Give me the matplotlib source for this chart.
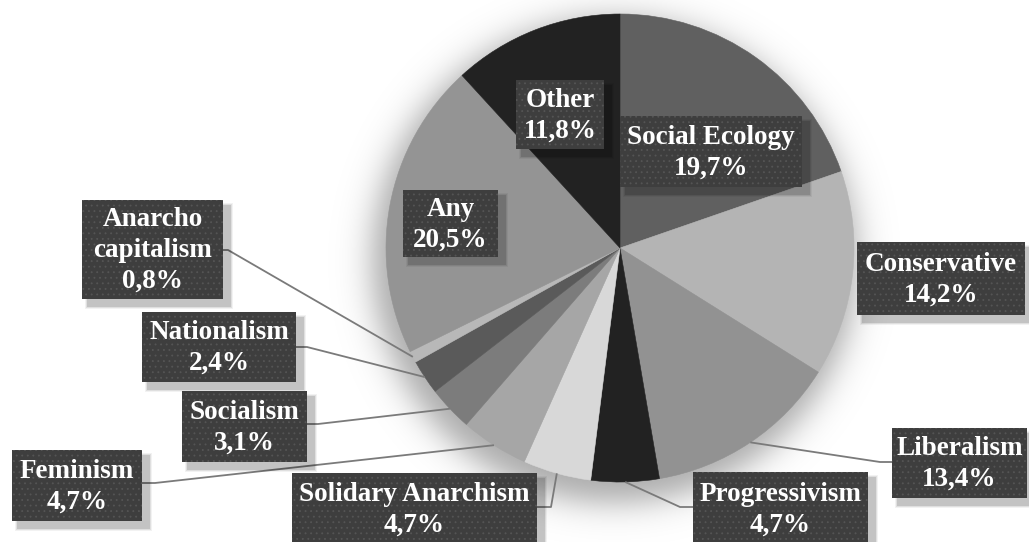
import numpy as np
import matplotlib.pyplot as plt
from matplotlib.patches import Rectangle

W, H = 1029, 542

# share of each group, in percent (clockwise from 12 o'clock)
labels = ["Social Ecology", "Conservative", "Liberalism", "Progressivism",
          "Solidary Anarchism", "Feminism", "Socialism", "Nationalism",
          "Anarcho\ncapitalism", "Any", "Other"]
shares = [19.7, 14.2, 13.4, 4.7, 4.7, 4.7, 3.1, 2.4, 0.8, 20.5, 11.8]
colors = ["#606060", "#b4b4b4", "#929292", "#222222", "#d8d8d8", "#a6a6a6",
          "#7c7c7c", "#5a5a5a", "#b8b8b8", "#949494", "#222222"]

# label boxes in pixels (x0, y0, x1, y1), y measured from the top
boxes = [(620, 116, 802, 187), (857, 242, 1025, 315), (892, 428, 1027, 498),
         (693, 472, 868, 545), (292, 473, 537, 545), (12, 450, 142, 521),
         (182, 391, 307, 462), (142, 312, 296, 382), (82, 200, 223, 299),
         (403, 190, 498, 257), (516, 80, 604, 149)]
# elbow of the leader line (None = label sits on the slice)
elbows = [None, None, (880, 462), (680, 507), (551, 507), (155, 483),
          (318, 424), (307, 347), (228, 250), None, None]

CX, CY, R = 620, 248, 234


def fy(y):
    return H - y


fig = plt.figure(figsize=(W / 100, H / 100), dpi=100)
ax = fig.add_axes([0, 0, 1, 1])

# soft shadow under the pie, pushed a little down-left
yy, xx = np.mgrid[0:H, 0:W]
d = np.hypot(xx - (CX - 6), yy - (CY + 12))
glow = 0.34 / (1 + np.exp((d - (R + 8)) / 10.0))
shade = np.zeros((H, W, 4))
shade[..., 3] = glow
ax.imshow(shade, extent=(0, W, 0, H), origin="upper", zorder=0)

wedges, _ = ax.pie(shares, colors=colors, startangle=90, counterclock=False,
                   center=(CX, fy(CY)), radius=R, frame=True,
                   wedgeprops=dict(linewidth=0.4))
for w, c in zip(wedges, colors):
    w.set_edgecolor(c)
    w.set_zorder(1)
ax.set_xlim(0, W)
ax.set_ylim(0, H)
ax.set_aspect("equal")
ax.axis("off")

# leader lines from slice edge to label
cum = np.cumsum([0] + shares[:-1])
for i, el in enumerate(elbows):
    if el is None:
        continue
    theta = np.radians(90 - 3.6 * (cum[i] + shares[i] / 2))
    ex, ey = CX + R * np.cos(theta), fy(CY) + R * np.sin(theta)
    x0, y0, x1, y1 = boxes[i]
    bx = x1 if el[0] > x1 else x0
    if labels[i] == "Solidary Anarchism":
        bx = x1
    ax.plot([ex, el[0], bx], [ey, fy(el[1]), fy(el[1])],
            color="#7a7a7a", lw=1.3, zorder=2, solid_capstyle="butt")

plt.rcParams["hatch.linewidth"] = 0.6
for lab, val, (x0, y0, x1, y1) in zip(labels, shares, boxes):
    w_, h_ = x1 - x0, y1 - y0
    # drop shadow
    for k, a in [(7, 0.05), (5, 0.08), (3, 0.12)]:
        ax.add_patch(Rectangle((x0 + 6 - k / 2, fy(y1) - 6 - k / 2), w_ + k, h_ + k,
                               facecolor="black", alpha=a, lw=0, zorder=3))
    ax.add_patch(Rectangle((x0, fy(y1)), w_, h_, facecolor="#3e3e3e",
                           lw=0, zorder=4))
    ax.add_patch(Rectangle((x0, fy(y1)), w_, h_, facecolor="none",
                           edgecolor="#555555", hatch="...", lw=0, zorder=5))
    txt = "%s\n%s%%" % (lab, ("%.1f" % val).replace(".", ","))
    ax.text((x0 + x1) / 2, fy((y0 + y1) / 2 + 1), txt, ha="center", va="center",
            multialignment="center", color="white", fontsize=19.5,
            fontweight="bold", family="Liberation Serif", linespacing=1.3,
            zorder=6)

fig.savefig("out.png", dpi=100, facecolor="white")
